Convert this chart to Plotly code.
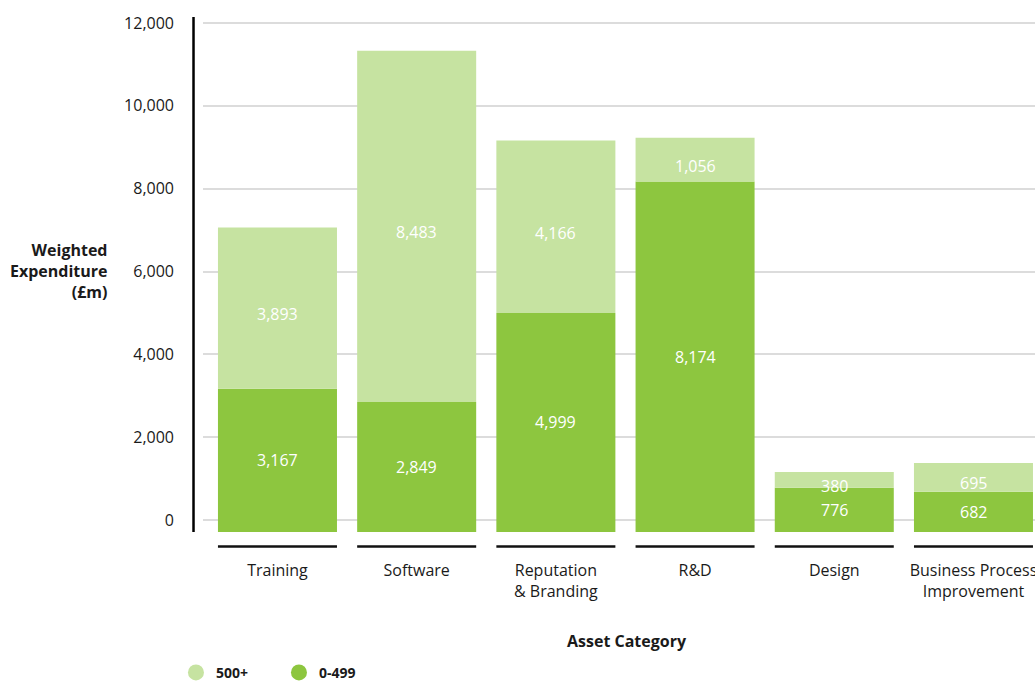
import plotly.graph_objects as go

# Asset categories and weighted expenditure (£m) by firm-size band
categories = ["Training", "Software", "Reputation<br>& Branding", "R&D", "Design",
              "Business Process<br>Improvement"]
band_small = [3167, 2849, 4999, 8174, 776, 682]      # 0-499
band_large = [3893, 8483, 4166, 1056, 380, 695]      # 500+
y_ticks = [0, 2000, 4000, 6000, 8000, 10000, 12000]

DARK = "#8dc63f"
LIGHT = "#c6e3a1"
TEXT = "#1a1a1a"
FONT = "Open Sans"

BAR_W = 0.855
PAD = -290          # bars drop slightly below the zero line
Y_TOP = 12145

def fmt(v):
    return f"{v:,}"

fig = go.Figure()

# small strip below zero so bars sit on the category rules
fig.add_trace(go.Bar(
    x=categories, y=[PAD] * len(categories), marker=dict(color=DARK, line_width=0),
    width=BAR_W, showlegend=False, hoverinfo="skip",
))
fig.add_trace(go.Bar(
    x=categories, y=band_small, name="0-499", marker=dict(color=DARK, line_width=0),
    width=BAR_W, showlegend=False,
))
fig.add_trace(go.Bar(
    x=categories, y=band_large, name="500+", marker=dict(color=LIGHT, line_width=0),
    width=BAR_W, showlegend=False,
))

# legend entries drawn as circles
fig.add_trace(go.Scatter(x=[None], y=[None], mode="markers", name="500+",
                         marker=dict(color=LIGHT, size=17, symbol="circle")))
fig.add_trace(go.Scatter(x=[None], y=[None], mode="markers", name="0-499",
                         marker=dict(color=DARK, size=17, symbol="circle")))

# value labels, centred in each visible segment
annotations = []
for cat, lo, hi in zip(categories, band_small, band_large):
    for base, val in ((0, lo), (lo, hi)):
        annotations.append(dict(
            x=cat, y=base + val / 2 + PAD / 2, xref="x", yref="y", text=fmt(val),
            showarrow=False, xanchor="center", yanchor="middle",
            font=dict(color="white", size=16, family=FONT),
        ))

annotations += [
    dict(text="<b>Weighted<br>Expenditure<br>(£m)</b>", xref="paper", yref="paper",
         x=-0.1118, y=0.507, xanchor="right", yanchor="middle", align="right",
         showarrow=False, font=dict(size=16, color=TEXT, family=FONT)),
    dict(text="<b>Asset Category</b>", xref="paper", yref="paper",
         x=0.5096, y=-0.2124, xanchor="center", yanchor="middle",
         showarrow=False, font=dict(size=16, color=TEXT, family=FONT)),
]

# black rule under each category
shapes = []
for i in range(len(categories)):
    shapes.append(dict(type="line", xref="x", yref="paper",
                       x0=i - BAR_W / 2, x1=i + BAR_W / 2, y0=-0.028, y1=-0.028,
                       line=dict(color="#111111", width=2.5)))
# vertical value axis line
shapes.append(dict(type="line", xref="paper", yref="paper",
                   x0=-0.0114, x1=-0.0114, y0=0, y1=1,
                   line=dict(color="#000000", width=2.5)))

fig.update_layout(
    width=1035, height=682,
    margin=dict(l=203, r=0, t=17, b=150, autoexpand=False),
    barmode="relative",
    paper_bgcolor="white", plot_bgcolor="white",
    font=dict(family=FONT, size=16, color=TEXT),
    xaxis=dict(
        range=[-0.535, 5.442], showgrid=False, showline=False, zeroline=False,
        ticks="", ticklabelstandoff=27, tickfont=dict(size=16, color=TEXT),
        automargin=False, fixedrange=True,
    ),
    yaxis=dict(
        range=[PAD, Y_TOP], tickvals=y_ticks, ticktext=[fmt(v) for v in y_ticks],
        showgrid=True, gridcolor="#dcdcdc", gridwidth=1.5, zeroline=False,
        showline=False, ticks="", ticklabelstandoff=28, automargin=False,
        tickfont=dict(size=16, color=TEXT),
    ),
    shapes=shapes,
    annotations=annotations,
    legend=dict(
        orientation="h", x=-0.0325, y=-0.2735, xanchor="left", yanchor="middle",
        font=dict(size=14, color=TEXT, family=FONT, weight="bold"),
        entrywidth=58, entrywidthmode="pixels", bgcolor="rgba(0,0,0,0)",
    ),
    showlegend=True,
)

fig.write_html("out.html")
